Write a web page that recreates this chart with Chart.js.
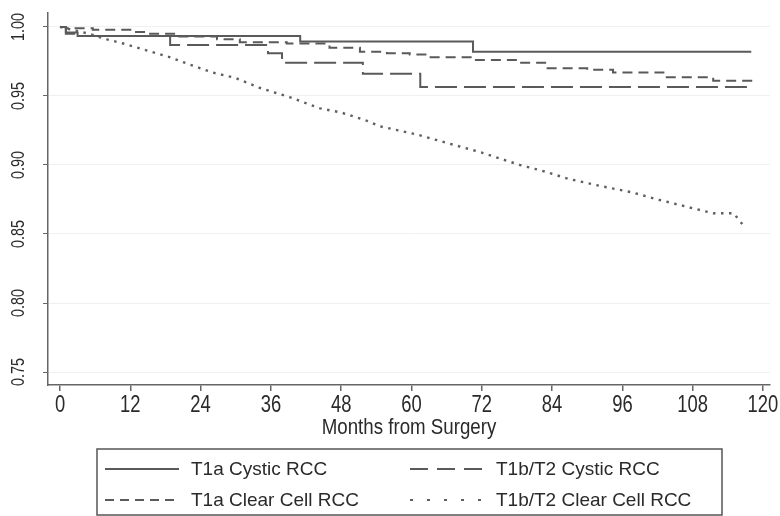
<!DOCTYPE html>
<html>
<head>
<meta charset="utf-8">
<script src="https://cdn.jsdelivr.net/npm/chart.js@4"></script>
<style>
  body { margin: 0; background: #fff; }
  #wrap { width: 780px; height: 516px; }
</style>
</head>
<body>
<div id="wrap"><canvas id="km" width="780" height="516"></canvas></div>
<script>
// axis ticks
const xTicks = [0, 12, 24, 36, 48, 60, 72, 84, 96, 108, 120];
const yTicks = [0.75, 0.80, 0.85, 0.90, 0.95, 1.00];
const xTitle = 'Months from Surgery';

const seriesNames = ['T1a Cystic RCC', 'T1b/T2 Cystic RCC', 'T1a Clear Cell RCC', 'T1b/T2 Clear Cell RCC'];

// survival curves (months, survival)
const t1aCysticMonths = [0, 1, 3, 41, 70.5, 118];
const t1aCysticSurv = [1.000, 0.996, 0.9935, 0.9895, 0.982, 0.982];

const t1bCysticMonths = [0, 1, 3, 18.8, 35.5, 37.9, 51.7, 61.5, 118];
const t1bCysticSurv = [1.000, 0.995, 0.9935, 0.987, 0.981, 0.974, 0.966, 0.9565, 0.9565];

const t1aClearMonths = [0, 1, 5.6, 12, 14.8, 20, 26.8, 30.7, 38.7, 46, 51.2, 55.8, 59.7, 63, 70.5, 78.5, 83, 90, 94.4, 103, 111.5, 118];
const t1aClearSurv = [1.000, 0.999, 0.998, 0.9964, 0.995, 0.993, 0.991, 0.989, 0.988, 0.985, 0.982, 0.981, 0.980, 0.978, 0.976, 0.974, 0.970, 0.969, 0.967, 0.9636, 0.961, 0.960];

const t1bClearMonths = [0, 2, 5, 8, 10.8, 14, 18.8, 22, 26, 30, 34, 39.3, 44.4, 48, 52.4, 54.6, 61, 66, 72, 78.5, 83, 86.7, 92, 97.8, 102, 105.8, 111.5, 115, 116.5];
const t1bClearSurv = [1.000, 0.998, 0.995, 0.991, 0.988, 0.984, 0.978, 0.973, 0.967, 0.963, 0.956, 0.949, 0.941, 0.938, 0.932, 0.928, 0.922, 0.916, 0.909, 0.900, 0.895, 0.890, 0.885, 0.880, 0.875, 0.871, 0.865, 0.865, 0.857];

const sans = "'Liberation Sans', Arial, sans-serif";
const textCol = '#2a2a2a';
const lineGrey = '#5a5a5a';

function toPoints(months, surv) {
  return months.map((m, i) => ({ x: m, y: surv[i] }));
}

// squeezed text, to look like the narrow stata font
function narrowText(ctx, text, x, y, size, squeeze, angle) {
  ctx.save();
  ctx.translate(x, y);
  if (angle) ctx.rotate(angle);
  ctx.scale(squeeze, 1);
  ctx.font = size + 'px ' + sans;
  ctx.fillText(text, 0, 0);
  ctx.restore();
}

// tick labels, axis title and the boxed legend
const extras = {
  id: 'extras',
  afterDraw(chart) {
    const ctx = chart.ctx;
    const xScale = chart.scales.x;
    const yScale = chart.scales.y;
    ctx.save();
    ctx.fillStyle = textCol;
    ctx.textAlign = 'center';

    ctx.textBaseline = 'middle';
    yTicks.forEach(v => {
      narrowText(ctx, v.toFixed(2), 19, yScale.getPixelForValue(v), 17.5, 0.82, -Math.PI / 2);
    });

    ctx.textBaseline = 'alphabetic';
    xTicks.forEach(v => {
      narrowText(ctx, String(v), xScale.getPixelForValue(v), 411.5, 23, 0.8, 0);
    });
    narrowText(ctx, xTitle, (chart.chartArea.left + chart.chartArea.right) / 2, 434, 22, 0.85, 0);

    // legend box
    ctx.strokeStyle = '#555';
    ctx.lineWidth = 1.5;
    ctx.strokeRect(97, 449, 625, 66);

    const slots = [[105, 469], [410, 469], [105, 500], [410, 500]];
    const sampleDash = [[], [18, 9], [9, 6], [3, 14]];
    ctx.font = '19px ' + sans;
    ctx.textAlign = 'left';
    ctx.textBaseline = 'middle';
    chart.data.datasets.forEach((ds, k) => {
      const [sx, sy] = slots[k];
      ctx.strokeStyle = ds.borderColor;
      ctx.lineWidth = 2;
      ctx.setLineDash(sampleDash[k]);
      ctx.beginPath();
      ctx.moveTo(sx, sy);
      ctx.lineTo(sx + 74, sy);
      ctx.stroke();
      ctx.setLineDash([]);
      ctx.fillStyle = textCol;
      ctx.fillText(ds.label, sx + 86, sy + 1);
    });
    ctx.restore();
  }
};

new Chart(document.getElementById('km'), {
  type: 'line',
  data: {
    datasets: [
      { label: seriesNames[0], data: toPoints(t1aCysticMonths, t1aCysticSurv), stepped: true,
        borderColor: lineGrey, borderWidth: 2, borderDash: [] },
      { label: seriesNames[1], data: toPoints(t1bCysticMonths, t1bCysticSurv), stepped: true,
        borderColor: lineGrey, borderWidth: 2, borderDash: [22, 7] },
      { label: seriesNames[2], data: toPoints(t1aClearMonths, t1aClearSurv), stepped: true,
        borderColor: lineGrey, borderWidth: 2, borderDash: [10, 6] },
      { label: seriesNames[3], data: toPoints(t1bClearMonths, t1bClearSurv), stepped: false,
        borderColor: '#5f5f5f', borderWidth: 2.4, borderDash: [2.5, 5.5] }
    ]
  },
  options: {
    responsive: false,
    animation: false,
    devicePixelRatio: 1,
    elements: { point: { radius: 0 } },
    layout: { padding: { top: 13, right: 10, left: 0, bottom: 0 } },
    plugins: { legend: { display: false }, tooltip: { enabled: false } },
    scales: {
      x: {
        type: 'linear',
        min: -2.05,
        max: 121.2,
        afterBuildTicks: s => { s.ticks = xTicks.map(v => ({ value: v })); },
        afterFit: s => { s.height = 131; },
        grid: { drawOnChartArea: false, drawTicks: true, tickLength: 6, color: '#666', lineWidth: 1.5 },
        border: { color: '#666', width: 1.5 },
        ticks: { display: false }
      },
      y: {
        type: 'linear',
        min: 0.7406,
        max: 1.0101,
        afterBuildTicks: s => { s.ticks = yTicks.map(v => ({ value: v })); },
        afterFit: s => { s.width = 48; },
        grid: { color: '#f0f0f0', tickColor: '#666', tickLength: 5, lineWidth: 1 },
        border: { color: '#666', width: 1.5 },
        ticks: { display: false }
      }
    }
  },
  plugins: [extras]
});
</script>
</body>
</html>
